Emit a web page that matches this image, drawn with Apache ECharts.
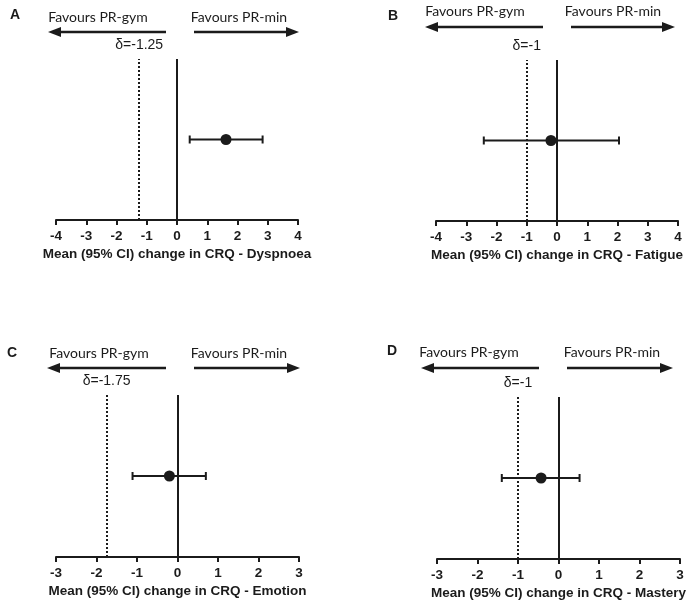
<!DOCTYPE html>
<html>
<head>
<meta charset="utf-8">
<script src="https://cdn.jsdelivr.net/npm/echarts@6/dist/echarts.min.js"></script>
<style>
  html, body { margin: 0; padding: 0; background: #fff; }
  #chart { width: 689px; height: 605px; }
</style>
</head>
<body>
<div id="chart"></div>
<script>
// data
const panelLetters = ['A', 'B', 'C', 'D'];
const outcomes = ['Dyspnoea', 'Fatigue', 'Emotion', 'Mastery'];
const meanChange = [1.62, -0.2, -0.2, -0.43];
const ciLower = [0.42, -2.42, -1.11, -1.4];
const ciUpper = [2.83, 2.05, 0.7, 0.52];
const mcidValues = [-1.25, -1, -1.75, -1];
const mcidLabels = ['δ=-1.25', 'δ=-1', 'δ=-1.75', 'δ=-1'];
const axisMin = [-4, -4, -3, -3];
const axisMax = [4, 4, 3, 3];
const leftLabel = 'Favours PR-gym';
const rightLabel = 'Favours PR-min';

// layout of the 2x2 panels (pixels)
const gridBoxes = [
    { left: 56, top: 59, width: 242, height: 161 },
    { left: 436, top: 60, width: 242, height: 161 },
    { left: 56, top: 395, width: 243, height: 162 },
    { left: 437, top: 397, width: 243, height: 162 }
];
const headerPos = [
    { letter: [15, 15], gym: 98, min: 239, labelY: 17, arrowY: 32, arrows: [48, 166, 194, 299] },
    { letter: [393, 16], gym: 475, min: 613, labelY: 11, arrowY: 27, arrows: [425, 543, 571, 675] },
    { letter: [12, 353], gym: 99, min: 239, labelY: 353, arrowY: 368, arrows: [47, 166, 194, 300] },
    { letter: [392, 351], gym: 469, min: 612, labelY: 352, arrowY: 368, arrows: [421, 539, 567, 673] }
];

const ink = '#1b1b1b';
const chart = echarts.init(document.getElementById('chart'));

function renderErrorBar(params, api) {
    const lo = api.coord([api.value(0), api.value(2)]);
    const hi = api.coord([api.value(1), api.value(2)]);
    const cap = 4;
    const style = { stroke: ink, lineWidth: 2 };
    return {
        type: 'group',
        children: [
            { type: 'line', shape: { x1: lo[0], y1: lo[1], x2: hi[0], y2: hi[1] }, style: style },
            { type: 'line', shape: { x1: lo[0], y1: lo[1] - cap, x2: lo[0], y2: lo[1] + cap }, style: style },
            { type: 'line', shape: { x1: hi[0], y1: hi[1] - cap, x2: hi[0], y2: hi[1] + cap }, style: style }
        ]
    };
}

function arrow(tipX, tailX, y) {
    const dir = tipX < tailX ? 1 : -1;
    const headLen = 13;
    const halfH = 5;
    return {
        type: 'group',
        children: [
            { type: 'line', shape: { x1: tailX, y1: y, x2: tipX + dir * headLen, y2: y }, style: { stroke: ink, lineWidth: 2.5 } },
            { type: 'polygon', shape: { points: [[tipX, y], [tipX + dir * headLen, y - halfH], [tipX + dir * headLen, y + halfH]] }, style: { fill: ink } }
        ]
    };
}

const grids = [], xAxes = [], yAxes = [], series = [], graphics = [];

panelLetters.forEach((letter, i) => {
    grids.push(gridBoxes[i]);
    xAxes.push({
        type: 'value',
        gridIndex: i,
        min: axisMin[i],
        max: axisMax[i],
        interval: 1,
        splitLine: { show: false },
        axisLine: { show: true, onZero: false, lineStyle: { color: ink, width: 2 } },
        axisTick: { show: true, length: 5, lineStyle: { color: ink, width: 2 } },
        axisLabel: { color: ink, fontFamily: 'Liberation Sans', fontWeight: 'bold', fontSize: 13.5, margin: 9 },
        name: 'Mean (95% CI) change in CRQ - ' + outcomes[i],
        nameLocation: 'middle',
        nameGap: 27,
        nameTextStyle: { color: ink, fontFamily: 'Liberation Sans', fontWeight: 'bold', fontSize: 13.5 }
    });
    yAxes.push({
        type: 'category',
        gridIndex: i,
        data: [outcomes[i]],
        show: false
    });
    series.push({
        type: 'custom',
        xAxisIndex: i,
        yAxisIndex: i,
        renderItem: renderErrorBar,
        encode: { x: [0, 1], y: 2 },
        data: [[ciLower[i], ciUpper[i], outcomes[i]]],
        z: 3
    });
    series.push({
        type: 'scatter',
        xAxisIndex: i,
        yAxisIndex: i,
        symbolSize: 11,
        itemStyle: { color: ink, opacity: 1 },
        data: [[meanChange[i], outcomes[i]]],
        z: 4,
        markLine: {
            silent: true,
            symbol: 'none',
            animation: false,
            data: [
                {
                    xAxis: 0,
                    lineStyle: { color: ink, width: 2, type: 'solid' },
                    label: { show: false }
                },
                {
                    xAxis: mcidValues[i],
                    lineStyle: { color: ink, width: 2, type: [2, 2] },
                    label: {
                        show: true,
                        position: 'end',
                        distance: 7,
                        formatter: mcidLabels[i],
                        color: ink,
                        fontFamily: 'Liberation Sans',
                        fontSize: 14
                    }
                }
            ]
        }
    });

    const h = headerPos[i];
    graphics.push({
        type: 'text', x: h.letter[0], y: h.letter[1],
        style: { text: letter, font: 'bold 14px "Liberation Sans"', fill: ink, align: 'center', verticalAlign: 'middle' }
    });
    graphics.push({
        type: 'text', x: h.gym, y: h.labelY,
        style: { text: leftLabel, font: '14px Lato', fill: ink, align: 'center', verticalAlign: 'middle' }
    });
    graphics.push({
        type: 'text', x: h.min, y: h.labelY,
        style: { text: rightLabel, font: '14px Lato', fill: ink, align: 'center', verticalAlign: 'middle' }
    });
    graphics.push(arrow(h.arrows[0], h.arrows[1], h.arrowY));
    graphics.push(arrow(h.arrows[3], h.arrows[2], h.arrowY));
});

chart.setOption({
    animation: false,
    backgroundColor: '#fff',
    grid: grids,
    xAxis: xAxes,
    yAxis: yAxes,
    series: series,
    graphic: graphics
});
window.addEventListener('resize', () => chart.resize());
</script>
</body>
</html>
